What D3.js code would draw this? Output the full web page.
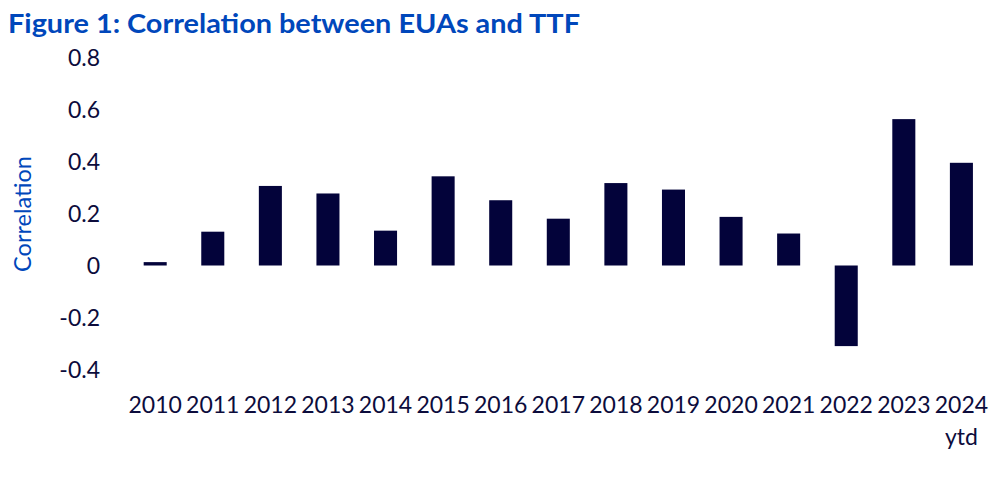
<!DOCTYPE html>
<html>
<head>
<meta charset="utf-8">
<script src="https://cdn.jsdelivr.net/npm/d3@7"></script>
<style>
  html, body { margin: 0; padding: 0; background: #fff; }
  svg { display: block; font-family: Lato, "Open Sans", sans-serif; }
</style>
</head>
<body>
<div id="chart"></div>
<script>
// Data
const years = ['2010', '2011', '2012', '2013', '2014', '2015', '2016', '2017',
               '2018', '2019', '2020', '2021', '2022', '2023', '2024'];
const correlation = [0.013, 0.13, 0.306, 0.277, 0.134, 0.343, 0.251, 0.18,
                     0.317, 0.292, 0.187, 0.123, -0.31, 0.563, 0.395];
const yTicks = [-0.4, -0.2, 0, 0.2, 0.4, 0.6, 0.8];

const width = 1000;
const height = 488;
const barColor = '#03033a';
const textColor = '#0c0c3c';
const blue = '#0047bb';

const svg = d3.select('#chart')
    .append('svg')
    .attr('width', width)
    .attr('height', height);

// Title (stretched to the reference's width, Calibri is wider than Lato)
svg.append('text')
    .attr('x', 8)
    .attr('y', 33)
    .attr('fill', blue)
    .attr('font-weight', 700)
    .attr('font-size', 26)
    .attr('textLength', 572)
    .attr('lengthAdjust', 'spacingAndGlyphs')
    .text('Figure 1: Correlation between EUAs and TTF');

// Scales
const x = d3.scaleBand()
    .domain(years)
    .range([126.4, 990.2])
    .paddingInner(0.6)
    .paddingOuter(0.3);

const y = d3.scaleLinear()
    .domain([-0.4, 0.8])
    .range([369.5, 57.5]);

// Y axis (labels only, no line or ticks), plain hyphen for negatives
const yAxis = svg.append('g')
    .attr('transform', 'translate(100,0)')
    .call(d3.axisLeft(y)
        .tickValues(yTicks)
        .tickSize(0)
        .tickPadding(0)
        .tickFormat(d => d === 0 ? '0' : d.toFixed(1)));
yAxis.select('.domain').remove();
yAxis.selectAll('text')
    .attr('fill', textColor)
    .attr('font-size', 23)
    .attr('font-family', 'Lato, sans-serif')
    .attr('dy', '0.36em');

// Y axis title
svg.append('text')
    .attr('transform', 'translate(31,214) rotate(-90)')
    .attr('text-anchor', 'middle')
    .attr('fill', blue)
    .attr('font-size', 23.5)
    .text('Correlation');

// Bars
svg.selectAll('.bar')
    .data(years.map((year, i) => ({ year, value: correlation[i] })))
    .enter()
    .append('rect')
    .attr('class', 'bar')
    .attr('x', d => x(d.year))
    .attr('width', x.bandwidth())
    .attr('y', d => y(Math.max(0, d.value)))
    .attr('height', d => Math.abs(y(d.value) - y(0)))
    .attr('fill', barColor);

// X axis (category labels only)
const xAxis = svg.append('g')
    .attr('transform', 'translate(0,413)')
    .call(d3.axisBottom(x).tickSize(0).tickPadding(0));
xAxis.select('.domain').remove();
xAxis.selectAll('text')
    .attr('fill', textColor)
    .attr('font-size', 23)
    .attr('font-family', 'Lato, sans-serif')
    .attr('dy', 0);

// Second line under the last category
xAxis.selectAll('.tick')
    .filter(d => d === '2024')
    .append('text')
    .attr('y', 32)
    .attr('text-anchor', 'middle')
    .attr('fill', textColor)
    .attr('font-size', 23)
    .attr('font-family', 'Lato, sans-serif')
    .text('ytd');
</script>
</body>
</html>
